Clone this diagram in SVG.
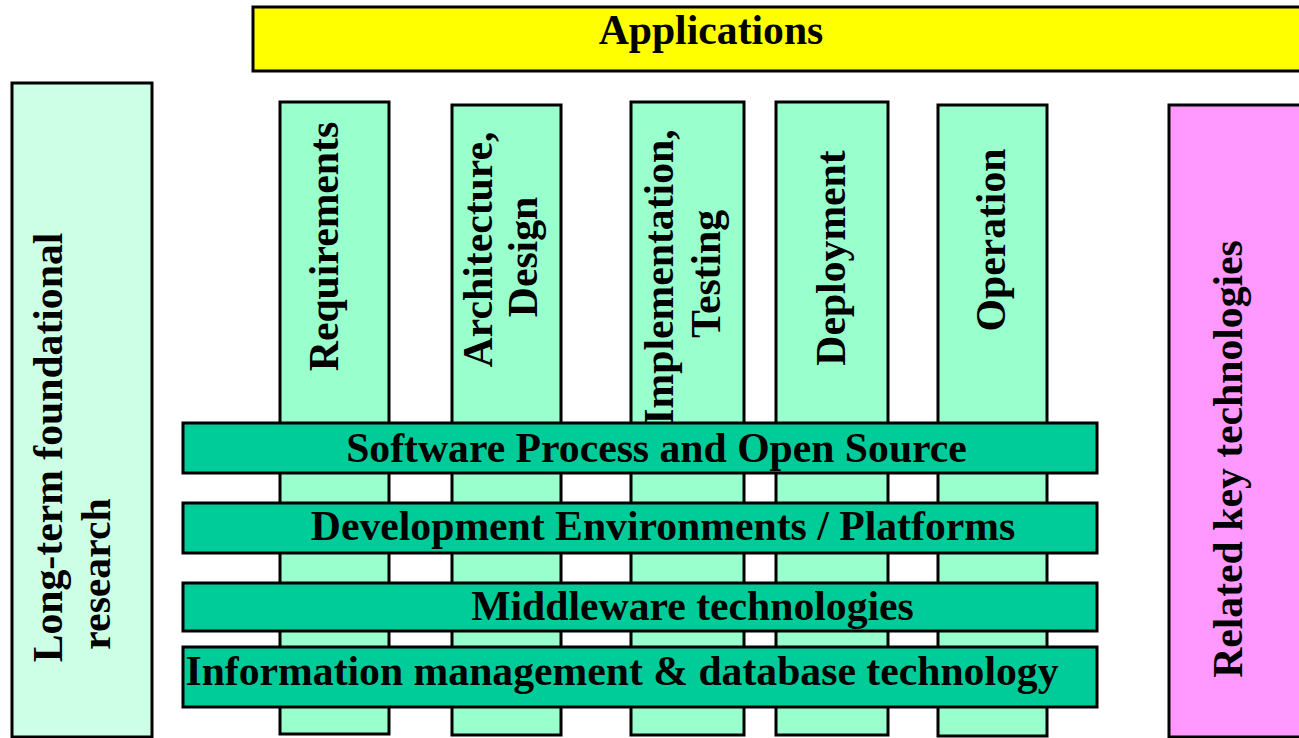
<svg xmlns="http://www.w3.org/2000/svg" width="1299" height="738" viewBox="0 0 1299 738">
  <style>
    .box { stroke: #000; stroke-width: 3; }
    .app { fill: #ffff00; }
    .found { fill: #ccffe6; }
    .related { fill: #ff99ff; }
    .phase { fill: #99ffcc; }
    .layer { fill: #00cc99; }
    .lbl { font-family: "Liberation Serif", "Times New Roman", serif; font-weight: bold; font-size: 41.7px; fill: #000; text-anchor: middle; }
  </style>
  <rect width="1299" height="738" fill="#fff"/>

  <!-- top band -->
  <g id="applications">
    <rect class="box app" x="253" y="7" width="1100" height="64"/>
    <text class="lbl" x="711" y="44">Applications</text>
  </g>

  <!-- side pillars -->
  <g id="foundational-research">
    <rect class="box found" x="12" y="83" width="140" height="654"/>
    <text class="lbl" transform="translate(62,447.5) rotate(-90)">Long-term foundational</text>
    <text class="lbl" transform="translate(110,574) rotate(-90)">research</text>
  </g>
  <g id="related-technologies">
    <rect class="box related" x="1169" y="105" width="200" height="632"/>
    <text class="lbl" transform="translate(1242,459) rotate(-90)">Related key technologies</text>
  </g>

  <!-- lifecycle phases -->
  <g id="requirements">
    <rect class="box phase" x="280" y="102" width="109" height="632"/>
    <text class="lbl" transform="translate(338,246.5) rotate(-90)">Requirements</text>
  </g>
  <g id="architecture-design">
    <rect class="box phase" x="452" y="105" width="109" height="630"/>
    <text class="lbl" transform="translate(492,249.5) rotate(-90)">Architecture,</text>
    <text class="lbl" transform="translate(537,257) rotate(-90)">Design</text>
  </g>
  <g id="implementation-testing">
    <rect class="box phase" x="631" y="102" width="113" height="633"/>
    <text class="lbl" transform="translate(673,277) rotate(-90)">Implementation,</text>
    <text class="lbl" transform="translate(720,274) rotate(-90)">Testing</text>
  </g>
  <g id="deployment">
    <rect class="box phase" x="776" y="102" width="112" height="633"/>
    <text class="lbl" transform="translate(845,258) rotate(-90)">Deployment</text>
  </g>
  <g id="operation">
    <rect class="box phase" x="938" y="105" width="109" height="631"/>
    <text class="lbl" transform="translate(1005,240) rotate(-90)">Operation</text>
  </g>

  <!-- horizontal technology layers -->
  <g id="software-process">
    <rect class="box layer" x="183" y="423" width="914" height="50"/>
    <text class="lbl" x="656.5" y="462">Software Process and Open Source</text>
  </g>
  <g id="dev-environments">
    <rect class="box layer" x="183" y="503" width="914" height="50"/>
    <text class="lbl" x="663" y="540">Development Environments / Platforms</text>
  </g>
  <g id="middleware">
    <rect class="box layer" x="183" y="583" width="914" height="48"/>
    <text class="lbl" x="692.5" y="620">Middleware technologies</text>
  </g>
  <g id="information-management">
    <rect class="box layer" x="183" y="647" width="914" height="60"/>
    <text class="lbl" x="622" y="685">Information management &amp; database technology</text>
  </g>

  <g id="connectors"/>
</svg>
